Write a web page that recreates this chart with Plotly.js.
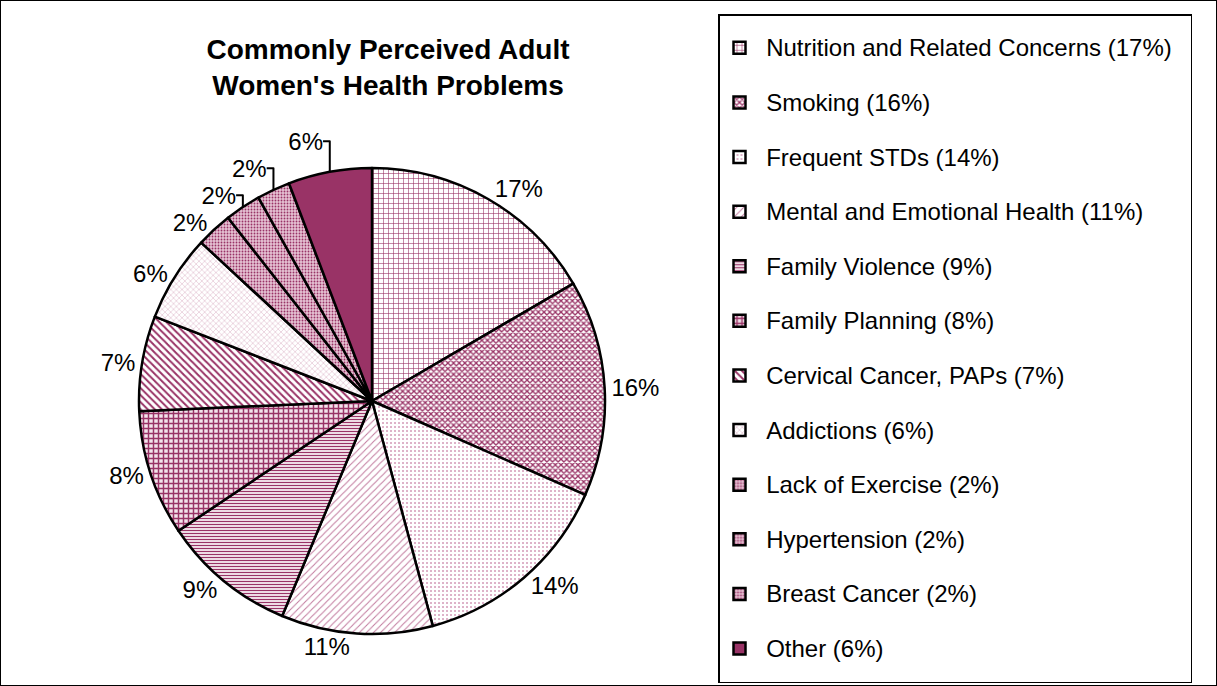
<!DOCTYPE html>
<html>
<head>
<meta charset="utf-8">
<script src="https://cdn.plot.ly/plotly-3.0.1.min.js"></script>
<style>
  html, body { margin: 0; padding: 0; background: #fff; }
  #chart { width: 1217px; height: 686px; box-sizing: border-box; border: 1px solid #000; }
</style>
</head>
<body>
<div id="chart"></div>
<script>
// ---- data ----
const categories = [
  "Nutrition and Related Concerns",
  "Smoking",
  "Frequent STDs",
  "Mental and Emotional Health",
  "Family Violence",
  "Family Planning",
  "Cervical Cancer, PAPs",
  "Addictions",
  "Lack of Exercise",
  "Hypertension",
  "Breast Cancer",
  "Other"
];
// printed percentage labels
const labelPercents = [17, 16, 14, 11, 9, 8, 7, 6, 2, 2, 2, 6];
const sliceShares = [16.6, 15.0, 14.2, 10.5, 9.3, 8.7, 6.6, 6.0, 2.5, 2.5, 2.3, 5.8];

// ---- styles ----
const plum = "#993366";
const patternShapes = ["+", "x", ".", "/", "-", "+", "\\", "x", ".", ".", ".", ""];
const patternFg = [plum, plum, "#d49ab7", "#c27a9e", plum, plum, plum, "#c27a9e", plum, plum, plum, plum];
const patternBg = ["#ffffff", "#ffffff", "#ffffff", "#ffffff", "#ffffff", "#f3e3eb", "#ffffff", "#ffffff", "#e6c3d4", "#e6c3d4", "#e6c3d4", plum];
const patternSize = [5, 4, 4, 5, 3, 5, 5, 4, 3, 3, 3, 5];
const patternSolidity = [0.22, 0.55, 0.2, 0.2, 0.45, 0.5, 0.4, 0.15, 0.3, 0.3, 0.3, 0.3];

const font = "Arial, 'Liberation Sans', sans-serif";
const nb = "\u00A0";
const legendLabels = categories.map((c, i) =>
  '<span style="font-size:24px;baseline-shift:7px">' + nb + c + ' (' + labelPercents[i] + '%)' + nb + nb + '</span>');
const sliceText = labelPercents.map(p => p + "%");

const W = 1215, H = 684;
const cx = 371, cy = 400, r = 233;

const trace = {
  type: "pie",
  labels: legendLabels,
  values: sliceShares,
  text: sliceText,
  sort: false,
  direction: "clockwise",
  rotation: 0,
  textinfo: "text",
  textposition: "outside",
  outsidetextfont: { family: font, size: 24, color: "#000" },
  hoverinfo: "label+text",
  domain: { x: [(cx - r) / W, (cx + r) / W], y: [(H - (cy + r)) / H, (H - (cy - r)) / H] },
  marker: {
    colors: patternBg,
    line: { color: "#000", width: 2.5 },
    pattern: {
      shape: patternShapes,
      fgcolor: patternFg,
      bgcolor: patternBg,
      size: patternSize,
      solidity: patternSolidity,
      fillmode: "replace"
    }
  }
};

const layout = {
  width: W, height: H,
  margin: { l: 0, r: 0, t: 0, b: 0 },
  paper_bgcolor: "#fff",
  font: { family: font, color: "#000" },
  title: {
    text: "<b>Commonly Perceived Adult<br>Women's Health Problems</b>",
    font: { family: font, size: 28, color: "#000" },
    x: 387 / W, xanchor: "center",
    y: 1 - 58 / H, yanchor: "top", yref: "container"
  },
  showlegend: true,
  legend: {
    x: 717 / W, xanchor: "left",
    y: 1 - 13 / H, yanchor: "top",
    bordercolor: "#000", borderwidth: 1.5, bgcolor: "#fff",
    font: { family: font, size: 39.7, color: "#000" },
    traceorder: "normal"
  }
};

Plotly.newPlot("chart", [trace], layout, { displayModeBar: false, staticPlot: true });
</script>
</body>
</html>
